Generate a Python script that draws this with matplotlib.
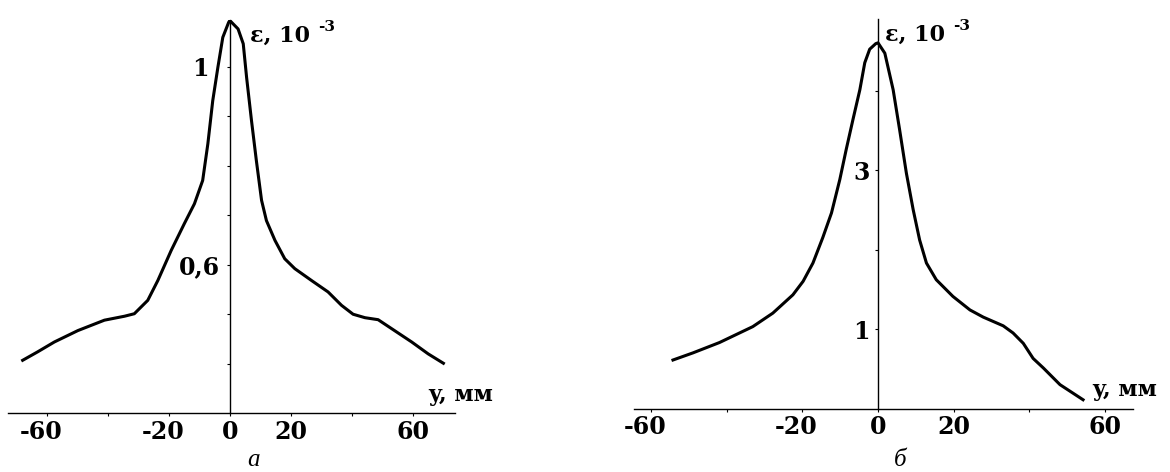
import matplotlib
matplotlib.use("Agg")
import matplotlib.pyplot as plt
from matplotlib.transforms import ScaledTranslation

# panel a: strain profile, eps*1e3 vs y (mm)
ya = [-67.9, -63.0, -57.5, -49.8, -41.1, -34.5, -31.3, -26.9, -23.6, -19.2,
      -14.9, -11.6, -8.9, -7.2, -5.6, -3.9, -2.3, -0.4, 0.0, 2.7,
      4.4, 5.5, 7.1, 8.7, 10.4, 12.0, 14.8, 18.0, 21.3, 26.8,
      32.2, 36.6, 40.4, 44.3, 48.6, 53.0, 59.6, 65.0, 70.0]
ea = [0.407, 0.424, 0.444, 0.467, 0.488, 0.496, 0.501, 0.528, 0.568, 0.629,
      0.683, 0.723, 0.770, 0.844, 0.931, 0.999, 1.059, 1.089, 1.093, 1.076,
      1.046, 0.978, 0.891, 0.810, 0.730, 0.689, 0.649, 0.612, 0.592, 0.568,
      0.545, 0.518, 0.500, 0.493, 0.489, 0.471, 0.444, 0.420, 0.401]

# panel b
yb = [-54.2, -48.9, -41.9, -33.1, -27.8, -22.5, -19.8, -17.2, -14.6, -12.3,
      -10.1, -8.4, -6.6, -4.8, -3.5, -2.2, -0.6, 0.0, 1.8, 4.0,
      5.7, 7.5, 9.3, 11.0, 12.8, 15.4, 19.8, 24.3, 27.8, 33.1,
      35.7, 38.4, 41.0, 43.7, 48.1, 54.2]
eb = [0.61, 0.70, 0.83, 1.03, 1.20, 1.43, 1.60, 1.83, 2.15, 2.46,
      2.88, 3.26, 3.64, 4.01, 4.35, 4.52, 4.59, 4.60, 4.47, 4.01,
      3.51, 2.96, 2.50, 2.12, 1.83, 1.62, 1.41, 1.24, 1.15, 1.04,
      0.95, 0.82, 0.63, 0.51, 0.30, 0.11]

xticks = [-60, -40, -20, 0, 20, 40, 60]
xlabels = ["-60", "", "-20", "0", "20", "", "60"]
yticks_a = [0.4, 0.5, 0.6, 0.7, 0.8, 0.9, 1.0]
ylabels_a = ["", "", "0,6", "", "", "", "1"]
yticks_b = [1, 2, 3, 4]
ylabels_b = ["1", "", "3", ""]

W, H = 1170, 472
fig = plt.figure(figsize=(W / 100, H / 100), dpi=100)

def fx(px):
    return px / W

def fy(py):
    return (H - py) / H

tick_font = dict(family="DejaVu Serif", weight="bold", size=17)

def setup(ax, xt, xl, yt, yl, ypad):
    for s in ["top", "right"]:
        ax.spines[s].set_visible(False)
    ax.spines["left"].set_position(("data", 0))
    ax.spines["left"].set_linewidth(1.0)
    ax.spines["bottom"].set_linewidth(1.0)
    ax.set_xticks(xt)
    ax.set_xticklabels(xl, fontdict=tick_font)
    ax.set_yticks(yt)
    ax.set_yticklabels(yl, fontdict=tick_font)
    ax.tick_params(axis="both", direction="out", length=2.5, width=0.8)
    ax.tick_params(axis="x", pad=2.5)
    ax.tick_params(axis="y", pad=ypad)
    # minus sign hangs left of the number, as in the original
    shift = ScaledTranslation(-6 / 100, 0, fig.dpi_scale_trans)
    for lab in ax.get_xticklabels():
        if lab.get_text().startswith("-"):
            lab.set_transform(lab.get_transform() + shift)
    ax.patch.set_visible(False)

# left panel
ax1 = fig.add_axes([fx(8), fy(413.3), fx(455) - fx(8), (413.3 - 20) / H])
ax1.plot(ya, ea, color="black", lw=2.2, solid_joinstyle="round")
ax1.set_xlim(-72.7, 73.8)
ax1.set_ylim(0.3, 1.094)
setup(ax1, xticks, xlabels, yticks_a, ylabels_a, 4.5)
ax1.yaxis.get_major_ticks()[6].set_pad(13)

# right panel
ax2 = fig.add_axes([fx(634), fy(408.5), fx(1133) - fx(634), (408.5 - 19) / H])
ax2.plot(yb, eb, color="black", lw=2.2, solid_joinstyle="round")
ax2.set_xlim(-64.5, 67.4)
ax2.set_ylim(0, 4.90)
setup(ax2, xticks, xlabels, yticks_b, ylabels_b, 3.5)

lab_font = dict(family="DejaVu Serif", weight="bold")
for x0, yb0 in [(250, 42), (885, 41)]:
    fig.text(fx(x0), fy(yb0), "ε, 10", fontsize=16, va="baseline", **lab_font)
    fig.text(fx(x0 + 68), fy(yb0 - 11), "-3", fontsize=11, va="baseline", **lab_font)

fig.text(fx(428), fy(401), "y, мм", fontsize=16, va="baseline", **lab_font)
fig.text(fx(1092), fy(396), "y, мм", fontsize=16, va="baseline", **lab_font)

fig.text(fx(253), fy(471), "а", fontsize=18, style="italic",
         family="Liberation Serif", ha="center", va="bottom")
fig.text(fx(900), fy(471), "б", fontsize=18, style="italic",
         family="Liberation Serif", ha="center", va="bottom")

fig.savefig("out.png", dpi=100)
